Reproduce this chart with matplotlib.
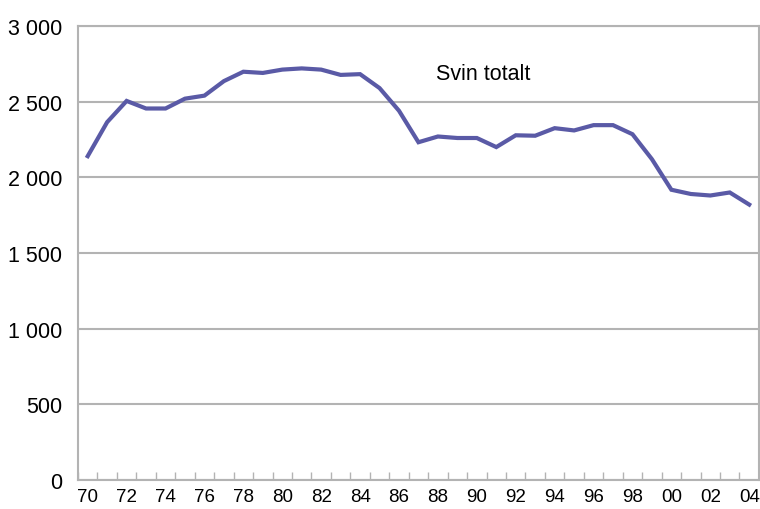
import numpy as np
import matplotlib.pyplot as plt

plt.rcParams['font.family'] = ['Liberation Sans', 'DejaVu Sans']

# aar 1970-2004
aar = ['70', '71', '72', '73', '74', '75', '76', '77', '78', '79',
       '80', '81', '82', '83', '84', '85', '86', '87', '88', '89',
       '90', '91', '92', '93', '94', '95', '96', '97', '98', '99',
       '00', '01', '02', '03', '04']
svin_totalt = [2140, 2365, 2505, 2455, 2455, 2520, 2540, 2636, 2698, 2690,
               2712, 2720, 2712, 2677, 2682, 2590, 2440, 2232, 2270, 2260,
               2260, 2200, 2278, 2275, 2325, 2310, 2345, 2345, 2285, 2120,
               1918, 1890, 1880, 1900, 1820]
y_ticks = [0, 500, 1000, 1500, 2000, 2500, 3000]
y_labels = ['0', '500', '1 000', '1 500', '2 000', '2 500', '3 000']

grid_farge = '#b3b3b3'
linje_farge = '#5a5aa6'

fig = plt.figure(figsize=(7.6, 5.1), dpi=100)
ax = fig.add_axes([0.1026, 0.0569, 0.896, 0.8901])

x = np.arange(len(aar))
ax.plot(x, svin_totalt, color=linje_farge, linewidth=3, solid_joinstyle='miter')

ax.set_xlim(-0.5, len(aar) - 0.5)
ax.set_ylim(0, 3000)

# y-akse
ax.set_yticks(y_ticks)
ax.set_yticklabels(y_labels, fontsize=15.5)
ax.tick_params(axis='y', length=0, pad=11.5)
ax.yaxis.grid(True, color=grid_farge, linewidth=1.5)
ax.set_axisbelow(True)

# x-akse: merker mellom kategoriene, etiketter annethvert aar
ax.set_xticks(x[::2])
ax.set_xticklabels(aar[::2], fontsize=13.5)
ax.set_xticks(np.arange(-0.5, len(aar)), minor=True)
ax.tick_params(axis='x', which='major', length=0, pad=6)
ax.tick_params(axis='x', which='minor', direction='in', length=6,
               color=grid_farge, width=1)

for side in ax.spines.values():
    side.set_color(grid_farge)
    side.set_linewidth(1.5)

ax.text(0.595, 2683, 'Svin totalt', transform=ax.get_yaxis_transform(),
        ha='center', va='center', fontsize=15.5)

fig.savefig('out.png', dpi=100)
